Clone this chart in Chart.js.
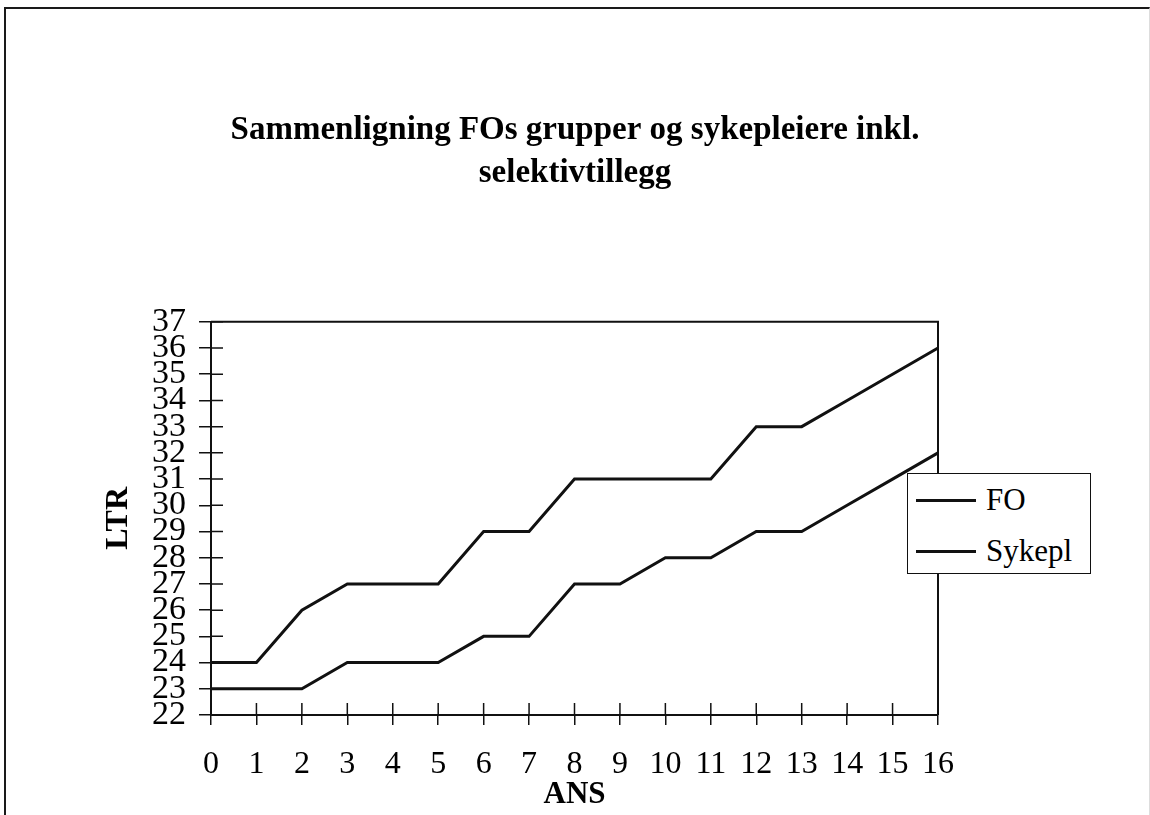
<!DOCTYPE html>
<html>
<head>
<meta charset="utf-8">
<script src="https://cdn.jsdelivr.net/npm/chart.js@4/dist/chart.umd.min.js"></script>
<style>
  html, body { margin: 0; padding: 0; background: #fff; }
  #wrap { position: relative; width: 1150px; height: 815px; overflow: hidden; }
  #frame { position: absolute; left: 4px; top: 7px; width: 1143px; height: 900px;
           border-top: 2px solid #1a1a1a; border-left: 2px solid #1a1a1a; border-right: 1px solid #ddd; }
  canvas { position: absolute; left: 0; top: 0; }
  #legend { position: absolute; left: 907px; top: 473px; width: 182px; height: 99px;
            border: 1.5px solid #111; background: #fff; font-family: "Liberation Serif", "Times New Roman", serif;
            font-size: 31px; color: #000; }
  .item { position: absolute; left: 8px; height: 36px; display: flex; align-items: center; }
  .swatch { width: 60px; height: 0; border-top: 3px solid #111; margin-right: 10px; }
</style>
</head>
<body>
<div id="wrap">
  <div id="frame"></div>
  <canvas id="c" width="1150" height="815"></canvas>
  <div id="legend"></div>
</div>
<script>
const titleLines = ["Sammenligning FOs grupper og sykepleiere inkl.", "selektivtillegg"];
const xTitle = "ANS";
const yTitle = "LTR";
const years = ["0","1","2","3","4","5","6","7","8","9","10","11","12","13","14","15","16"];
const seriesNames = ["FO", "Sykepl"];
const foValues = [24,24,26,27,27,27,29,29,31,31,31,31,33,33,34,35,36];
const sykeplValues = [23,23,23,24,24,24,25,25,27,27,28,28,29,29,30,31,32];
const yMin = 22, yMax = 37, yStep = 1;

const serif = "'Liberation Serif', 'Times New Roman', serif";

const frameAndTicks = {
  id: 'frameAndTicks',
  afterDraw(chart) {
    const ctx = chart.ctx, a = chart.chartArea;
    const xs = chart.scales.x, ys = chart.scales.y;
    ctx.save();
    ctx.strokeStyle = '#111';
    ctx.lineWidth = 2;
    ctx.beginPath();
    ctx.moveTo(a.left, a.top);
    ctx.lineTo(a.right, a.top);
    ctx.lineTo(a.right, a.bottom);
    ctx.stroke();
    ctx.lineWidth = 1.5;
    ctx.beginPath();
    ys.ticks.forEach((t, i) => {
      const p = ys.getPixelForTick(i);
      ctx.moveTo(a.left, p); ctx.lineTo(a.left + 12, p);
    });
    xs.ticks.forEach((t, i) => {
      const p = xs.getPixelForTick(i);
      ctx.moveTo(p, a.bottom); ctx.lineTo(p, a.bottom - 12);
    });
    ctx.stroke();
    ctx.restore();
  }
};

const chart = new Chart(document.getElementById('c'), {
  type: 'line',
  data: {
    labels: years,
    datasets: [
      { label: seriesNames[0], data: foValues, borderColor: '#111', borderWidth: 3, pointRadius: 0, tension: 0, fill: false },
      { label: seriesNames[1], data: sykeplValues, borderColor: '#111', borderWidth: 3, pointRadius: 0, tension: 0, fill: false }
    ]
  },
  options: {
    responsive: false,
    animation: false,
    devicePixelRatio: 1,
    layout: { padding: 0 },
    plugins: {
      legend: { display: false },
      tooltip: { enabled: false },
      title: {
        display: true,
        text: titleLines,
        color: '#000',
        font: { family: serif, size: 33, weight: 'bold', lineHeight: 1.3 },
        padding: { top: 109, bottom: 127 }
      }
    },
    scales: {
      x: {
        type: 'category',
        offset: false,
        grid: { drawOnChartArea: false, drawTicks: true, tickLength: 10, color: '#111', lineWidth: 1.5 },
        border: { display: true, color: '#111', width: 2 },
        ticks: { color: '#000', autoSkip: false, maxRotation: 0, padding: 20, font: { family: serif, size: 32 } },
        title: { display: true, text: xTitle, color: '#000', padding: { top: 0, bottom: 1 },
                 font: { family: serif, size: 31, weight: 'bold', lineHeight: 1.2 } },
        afterFit(scale) { scale.height = 100; }
      },
      y: {
        type: 'linear',
        min: yMin, max: yMax,
        grid: { drawOnChartArea: false, drawTicks: true, tickLength: 12, color: '#111', lineWidth: 1.5 },
        border: { display: true, color: '#111', width: 2 },
        ticks: { stepSize: yStep, color: '#000', autoSkip: false, padding: 13, font: { family: serif, size: 34, lineHeight: 1 } },
        title: { display: true, text: yTitle, color: '#000', padding: { top: 100, bottom: 0 },
                 font: { family: serif, size: 32, weight: 'bold', lineHeight: 1.2 } },
        afterFit(scale) { scale.width = 211; }
      },
      spacer: {
        type: 'linear',
        position: 'right',
        display: true,
        grid: { display: false },
        border: { display: false },
        ticks: { display: false },
        afterFit(scale) { scale.width = 212; }
      }
    }
  },
  plugins: [frameAndTicks]
});

const legend = document.getElementById('legend');
chart.data.datasets.forEach((ds, i) => {
  const item = document.createElement('div');
  item.className = 'item';
  item.style.top = (8 + i * 51) + 'px';
  const sw = document.createElement('span');
  sw.className = 'swatch';
  sw.style.borderTopColor = ds.borderColor;
  const tx = document.createElement('span');
  tx.textContent = ds.label;
  item.appendChild(sw); item.appendChild(tx);
  legend.appendChild(item);
});
</script>
</body>
</html>
